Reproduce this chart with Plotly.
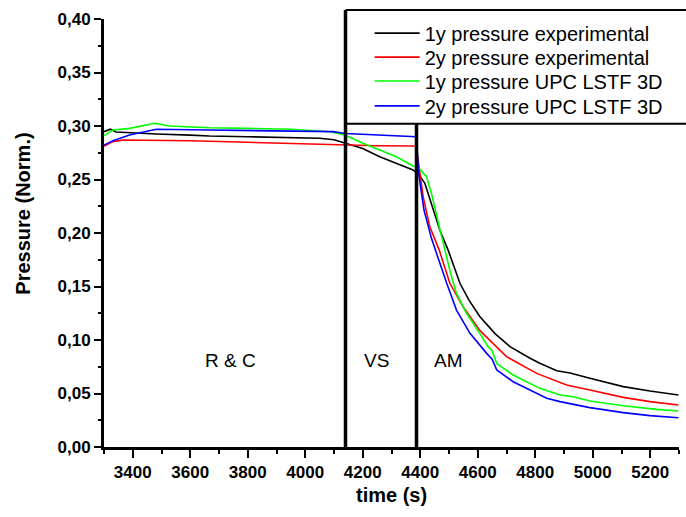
import plotly.graph_objects as go

# ---- data ----
t_1y_exp = [3300, 3322, 3342, 3400, 3482, 3600, 3667, 3800, 3950, 4050, 4100, 4140, 4200, 4259, 4320,
            4375, 4387, 4393, 4416, 4439, 4468, 4497, 4538, 4570, 4607, 4660, 4712, 4782, 4816, 4875,
            4921, 4990, 5106, 5199, 5298]
p_1y_exp = [0.2947, 0.2970, 0.2944, 0.2935, 0.2925, 0.2915, 0.2907, 0.2900, 0.2893, 0.2885, 0.2872, 0.2840,
            0.2790, 0.2713, 0.2650, 0.2589, 0.2563, 0.2555, 0.2464, 0.2277, 0.2028, 0.1840, 0.1530, 0.1370,
            0.1220, 0.1060, 0.0938, 0.0829, 0.0782, 0.0713, 0.0692, 0.0642, 0.0564, 0.0523, 0.0486]

t_2y_exp = [3300, 3331, 3366, 3482, 3600, 3800, 4000, 4140, 4250, 4386, 4393, 4410, 4433, 4466, 4503,
            4549, 4607, 4700, 4805, 4909, 4990, 5106, 5199, 5298]
p_2y_exp = [0.2810, 0.2854, 0.2869, 0.2869, 0.2862, 0.2848, 0.2832, 0.2820, 0.2816, 0.2813, 0.2680, 0.2340,
            0.2060, 0.1840, 0.1530, 0.1310, 0.1090, 0.0844, 0.0688, 0.0580, 0.0533, 0.0464, 0.0424, 0.0393]

t_1y_upc = [3300, 3331, 3389, 3476, 3528, 3667, 3800, 3950, 4086, 4137, 4201, 4259, 4317, 4375, 4393,
            4422, 4439, 4468, 4485, 4503, 4526, 4561, 4607, 4636, 4650, 4666, 4723, 4816, 4886, 4932,
            4990, 5106, 5223, 5298]
p_1y_upc = [0.2910, 0.2963, 0.2978, 0.3025, 0.3000, 0.2984, 0.2978, 0.2970, 0.2947, 0.2916, 0.2838, 0.2776,
            0.2713, 0.2626, 0.2613, 0.2526, 0.2370, 0.2040, 0.1840, 0.1650, 0.1436, 0.1250, 0.1062, 0.0938,
            0.0900, 0.0780, 0.0673, 0.0548, 0.0486, 0.0470, 0.0430, 0.0386, 0.0352, 0.0336]

t_2y_upc = [3300, 3331, 3389, 3482, 3667, 3900, 4097, 4140, 4386, 4396, 4413, 4439, 4457, 4492, 4526,
            4573, 4631, 4650, 4666, 4723, 4840, 4886, 4990, 5106, 5199, 5298]
p_2y_upc = [0.2822, 0.2863, 0.2916, 0.2970, 0.2963, 0.2955, 0.2947, 0.2930, 0.2900, 0.2526, 0.2215, 0.1950,
            0.1800, 0.1530, 0.1280, 0.1062, 0.0875, 0.0820, 0.0720, 0.0610, 0.0455, 0.0424, 0.0368, 0.0321,
            0.0293, 0.0274]

series_names = ["1y pressure experimental", "2y pressure experimental",
                "1y pressure UPC LSTF 3D", "2y pressure UPC LSTF 3D"]
series_colors = ["#000000", "#ff0000", "#00ff00", "#0000ff"]

phase_labels = ["R & C", "VS", "AM"]
phase_label_x = [3740, 4247, 4498]
phase_label_y = 0.081

divider_vs = 4140    # start of VS phase
divider_am = 4387    # start of AM phase
legend_box_bottom = 0.302

x_range = [3300, 5300]
y_range = [0.0, 0.40]

FONT = "Liberation Sans, Arial, sans-serif"

# one legend per entry so the rows can sit at the reference spacing
legend_ids = ["legend", "legend2", "legend3", "legend4"]
legend_rows_y = [0.967, 0.911, 0.855, 0.797]

fig = go.Figure()
for t, p, name, col, lid in zip([t_1y_exp, t_2y_exp, t_1y_upc, t_2y_upc],
                                [p_1y_exp, p_2y_exp, p_1y_upc, p_2y_upc],
                                series_names, series_colors, legend_ids):
    fig.add_trace(go.Scatter(x=t, y=p, mode="lines", name=name, legend=lid,
                             line=dict(color=col, width=1.6)))

# phase text
for lab, xv in zip(phase_labels, phase_label_x):
    fig.add_annotation(x=xv, y=phase_label_y, xref="x", yref="y", text=lab, showarrow=False,
                       font=dict(family=FONT, size=19, color="black"))

# axis titles
fig.add_annotation(x=-0.141, y=0.218, xref="paper", yref="y", text="Pressure (Norm.)",
                   textangle=-90, showarrow=False, xanchor="center", yanchor="middle",
                   font=dict(family=FONT, size=20, color="black", weight="bold"))
fig.add_annotation(x=0.5, y=-0.112, xref="paper", yref="paper", text="time (s)",
                   showarrow=False, xanchor="center", yanchor="middle",
                   font=dict(family=FONT, size=20, color="black", weight="bold"))

# dividers and legend box
xd_vs = (divider_vs - x_range[0]) / (x_range[1] - x_range[0])
fig.add_shape(type="line", xref="x", yref="paper", x0=divider_vs, x1=divider_vs, y0=0, y1=1.021,
              line=dict(color="black", width=3.5))
fig.add_shape(type="line", xref="x", yref="y", x0=divider_am, x1=divider_am, y0=0, y1=legend_box_bottom,
              line=dict(color="black", width=3.5))
fig.add_shape(type="line", xref="x domain", yref="paper", x0=xd_vs, x1=1.05, y0=1.021, y1=1.021,
              line=dict(color="black", width=2))
fig.add_shape(type="line", xref="x domain", yref="y", x0=xd_vs, x1=1.05, y0=legend_box_bottom,
              y1=legend_box_bottom, line=dict(color="black", width=2))

legend_layout = {}
for lid, ly in zip(legend_ids, legend_rows_y):
    legend_layout[lid] = dict(x=0.462, y=ly, xanchor="left", yanchor="middle",
                              bgcolor="rgba(0,0,0,0)", borderwidth=0,
                              font=dict(family=FONT, size=20, color="black"),
                              itemwidth=45, tracegroupgap=0)

fig.update_layout(
    width=686, height=517,
    margin=dict(l=104, r=7, t=19, b=70),
    paper_bgcolor="white", plot_bgcolor="white",
    separators=",.",
    font=dict(family=FONT, color="black"),
    showlegend=True,
    **legend_layout,
)
fig.update_xaxes(range=x_range, dtick=200, showgrid=False, zeroline=False,
                 showline=True, linewidth=3, linecolor="black",
                 ticks="outside", ticklen=8, tickwidth=2, tickcolor="black",
                 tickfont=dict(family=FONT, size=17, color="black", weight="bold"),
                 minor=dict(dtick=100, ticks="outside", ticklen=4, tickwidth=2, tickcolor="black"))
fig.update_yaxes(range=y_range, dtick=0.05, tickformat=".2f", showgrid=False, zeroline=False,
                 showline=True, linewidth=3, linecolor="black",
                 ticks="outside", ticklen=7, tickwidth=2, tickcolor="black",
                 tickfont=dict(family=FONT, size=17, color="black", weight="bold"),
                 minor=dict(dtick=0.025, ticks="outside", ticklen=3, tickwidth=2, tickcolor="black"))

fig.write_html("out.html")
